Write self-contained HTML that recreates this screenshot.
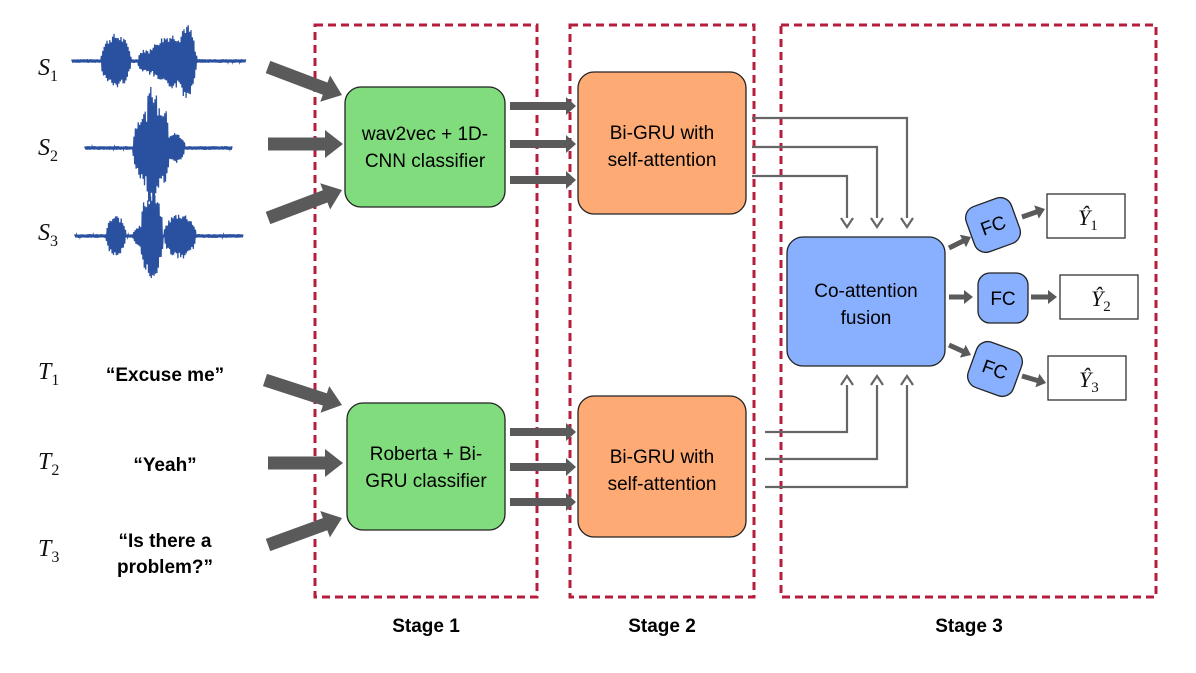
<!DOCTYPE html>
<html><head><meta charset="utf-8"><style>
html,body{margin:0;padding:0;background:#fff;}
svg{display:block;}
.b{font-family:"Liberation Sans",sans-serif;}
.s{font-family:"Liberation Serif",serif;font-style:italic;}
</style></head><body>
<svg id="c" width="1196" height="673" viewBox="0 0 1196 673" xmlns="http://www.w3.org/2000/svg">
<g fill="none" stroke="#b41e3c" stroke-width="3" stroke-dasharray="8,5">
<rect x="315" y="25" width="222" height="572"/>
<rect x="570" y="25" width="184" height="572"/>
<rect x="781" y="25" width="375" height="572"/>
</g>
<g id="waves" stroke="#2a50a0" fill="none" stroke-width="1.3"></g>
<g class="s" font-size="24" fill="#111">
<text x="38" y="75">S<tspan font-size="16" font-style="normal" dy="6">1</tspan></text>
<text x="38" y="155">S<tspan font-size="16" font-style="normal" dy="6">2</tspan></text>
<text x="38" y="240">S<tspan font-size="16" font-style="normal" dy="6">3</tspan></text>
<text x="38" y="379">T<tspan font-size="16" font-style="normal" dy="6">1</tspan></text>
<text x="38" y="469">T<tspan font-size="16" font-style="normal" dy="6">2</tspan></text>
<text x="38" y="556">T<tspan font-size="16" font-style="normal" dy="6">3</tspan></text>
</g>
<g class="b" font-size="19" font-weight="bold" fill="#000" text-anchor="middle">
<text x="165" y="381">“Excuse me”</text>
<text x="165" y="471">“Yeah”</text>
<text x="165" y="547">“Is there a</text>
<text x="165" y="573">problem?”</text>
<text x="426" y="632">Stage 1</text>
<text x="662" y="632">Stage 2</text>
<text x="969" y="632">Stage 3</text>
</g>
<g id="arr"></g>
<g stroke="#222" stroke-width="1.3">
<rect x="345" y="87" width="160" height="120" rx="16" fill="#80dc7c"/>
<rect x="347" y="403" width="158" height="127" rx="16" fill="#80dc7c"/>
<rect x="578" y="72" width="168" height="142" rx="16" fill="#fdaa74"/>
<rect x="578" y="396" width="168" height="141" rx="16" fill="#fdaa74"/>
<rect x="787" y="237" width="158" height="129" rx="16" fill="#88b0ff"/>
<rect x="969" y="201" width="48" height="48" rx="12" fill="#88b0ff" transform="rotate(-20 993 225)"/>
<rect x="978" y="273" width="50" height="50" rx="12" fill="#88b0ff"/>
<rect x="971" y="345" width="48" height="48" rx="12" fill="#88b0ff" transform="rotate(20 995 369)"/>
</g>
<g fill="#fff" stroke="#333" stroke-width="1.3">
<rect x="1047" y="194" width="78" height="44"/>
<rect x="1060" y="275" width="78" height="44"/>
<rect x="1048" y="356" width="78" height="44"/>
</g>
<g class="b" font-size="19" fill="#000" text-anchor="middle">
<text x="425" y="140">wav2vec + 1D-</text><text x="425" y="167">CNN classifier</text>
<text x="426" y="460">Roberta + Bi-</text><text x="426" y="487">GRU classifier</text>
<text x="662" y="139">Bi-GRU with</text><text x="662" y="166">self-attention</text>
<text x="662" y="463">Bi-GRU with</text><text x="662" y="490">self-attention</text>
<text x="866" y="297">Co-attention</text><text x="866" y="324">fusion</text>
<text x="993" y="232" transform="rotate(-20 993 225)">FC</text>
<text x="1003" y="305">FC</text>
<text x="995" y="376" transform="rotate(20 995 369)">FC</text>
</g>
<g class="s" font-size="22" fill="#111">
<text x="1078" y="225">Ŷ<tspan font-size="15" font-style="normal" dy="5">1</tspan></text>
<text x="1091" y="306">Ŷ<tspan font-size="15" font-style="normal" dy="5">2</tspan></text>
<text x="1079" y="387">Ŷ<tspan font-size="15" font-style="normal" dy="5">3</tspan></text>
</g>
</svg>
<script>
var NS="http://www.w3.org/2000/svg",A=document.getElementById("arr");
function el(t,a,p){var e=document.createElementNS(NS,t);for(var k in a)e.setAttribute(k,a[k]);(p||A).appendChild(e);return e;}
function arrow(x1,y1,x2,y2,w,hl,hw,col){col=col||"#5a5a5a";var dx=x2-x1,dy=y2-y1,L=Math.hypot(dx,dy),ux=dx/L,uy=dy/L,px=-uy,py=ux;
var bx=x2-ux*hl,by=y2-uy*hl;
el("line",{x1:x1,y1:y1,x2:bx+ux,y2:by+uy,stroke:col,"stroke-width":w});
el("polygon",{points:x2+","+y2+" "+(bx+px*hw)+","+(by+py*hw)+" "+(bx-px*hw)+","+(by-py*hw),fill:col});}
function poly(pts,w){el("polyline",{points:pts,fill:"none",stroke:"#666","stroke-width":w});}
[[268,67,342,95],[268,144,343,144],[268,218,342,190],[265,380,342,405],[268,463,343,463],[268,545,342,518]].forEach(function(a){arrow(a[0],a[1],a[2],a[3],13,18,14);});
[106,144,180,432,467,502].forEach(function(y){arrow(510,y,576,y,8,10,9);});
poly("752,118 907,118 907,218",2.2);poly("752,147 877,147 877,218",2.2);poly("752,176 847,176 847,218",2.2);
poly("765,432 847,432 847,385",2.2);poly("765,459 877,459 877,385",2.2);poly("765,487 907,487 907,385",2.2);
[847,877,907].forEach(function(x){el("polyline",{points:(x-6)+",218 "+x+",227 "+(x+6)+",218",fill:"none",stroke:"#666","stroke-width":2.2});
el("polyline",{points:(x-6)+",385 "+x+",376 "+(x+6)+",385",fill:"none",stroke:"#666","stroke-width":2.2});});
arrow(949,248,971,237,5,9,7);arrow(949,297,973,297,5,9,7);arrow(949,345,971,355,5,9,7);
arrow(1022,217,1045,209,5,9,7);arrow(1031,297,1057,297,5,9,7);arrow(1022,376,1046,383,5,9,7);
var W=document.getElementById("waves"),seed=7;function r(){seed=(seed*9301+49297)%233280;return seed/233280;}
function wave(x0,x1,cy,blobs){var d="M"+x0+" "+cy;for(var x=x0;x<=x1;x+=0.7){var a=1.8;blobs.forEach(function(b){var t=(x-b[0])/b[1];if(Math.abs(t)<1)a+=b[2]*Math.pow(Math.cos(t*Math.PI/2),0.5);});
var s=(Math.round((x-x0)/0.7)%2?1:-1);d+=" L"+x.toFixed(1)+" "+(cy+s*a*(0.7+0.3*r())).toFixed(1);}
el("path",{d:d},W);}
wave(72,246,61,[[116,15,26],[145,7,10],[173,24,26],[188,7,16]]);
wave(85,232,148,[[145,12,36],[158,11,42],[174,11,14]]);
wave(75,243,236,[[116,10,19],[140,7,9],[152,11,42],[180,16,22]]);
</script>
</body></html>
